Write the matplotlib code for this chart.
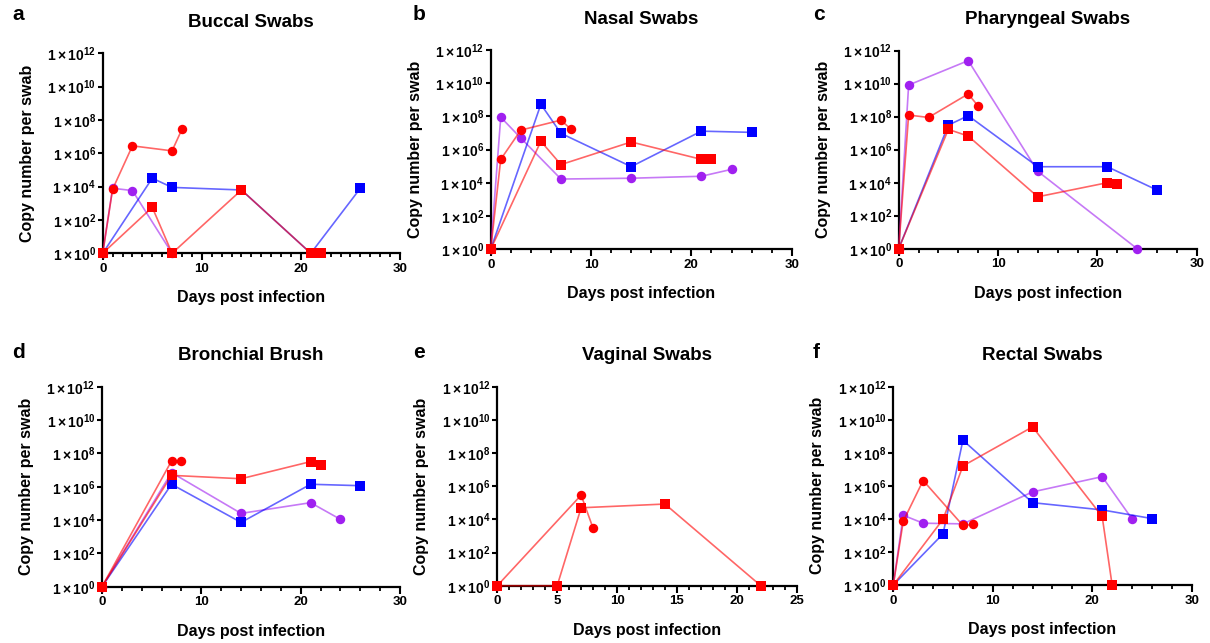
import matplotlib
matplotlib.use('Agg')
import matplotlib.pyplot as plt
from matplotlib.ticker import MultipleLocator, NullLocator

plt.rcParams['font.family'] = 'Liberation Sans'
plt.rcParams['font.weight'] = 'bold'
plt.rcParams['mathtext.fontset'] = 'custom'
plt.rcParams['mathtext.rm'] = 'Liberation Sans:bold'
plt.rcParams['mathtext.bf'] = 'Liberation Sans:bold'
plt.rcParams['mathtext.it'] = 'Liberation Sans:bold'
plt.rcParams['mathtext.default'] = 'bf'

# (days, copies per swab) for each animal; rc = red circles, pc = purple circles,
# bs = blue squares, rs = red squares
buccal_rc = ([0, 1, 3, 7, 8], [1, 7e3, 2.8e6, 1.4e6, 2.8e7])
buccal_pc = ([0, 1, 3, 7], [1, 8e3, 5.8e3, 1])
buccal_bs = ([0, 5, 7, 14, 21, 26], [1, 3.2e4, 9e3, 6.3e3, 1, 8e3])
buccal_rs = ([0, 5, 7, 14, 21, 22], [1, 575, 1, 6.3e3, 1, 1])

nasal_rc = ([0, 1, 3, 7, 8], [1, 2.6e5, 1.5e7, 6e7, 1.7e7])
nasal_pc = ([0, 1, 3, 7, 14, 21, 24], [1, 9e7, 5e6, 1.7e4, 1.9e4, 2.5e4, 6.5e4])
nasal_bs = ([0, 5, 7, 14, 21, 26], [1, 5.4e8, 9.6e6, 9.5e4, 1.3e7, 1.1e7])
nasal_rs = ([0, 5, 7, 14, 21, 22], [1, 3.2e6, 1.26e5, 2.9e6, 2.6e5, 2.6e5])

pharyngeal_rc = ([0, 1, 3, 7, 8], [1, 1.26e8, 9e7, 2.4e9, 4.4e8])
pharyngeal_pc = ([0, 1, 7, 14, 24], [1, 8.3e9, 2.5e11, 4.9e4, 1])
pharyngeal_bs = ([0, 5, 7, 14, 21, 26], [1, 3.1e7, 1.15e8, 9.3e4, 9.3e4, 3.6e3])
pharyngeal_rs = ([0, 5, 7, 14, 21, 22], [1, 1.7e7, 6.7e6, 1.4e3, 1e4, 8.3e3])

bronchial_rc = ([0, 7, 8], [1, 3.5e7, 3.5e7])
bronchial_pc = ([0, 7, 14, 21, 24], [1, 7e6, 2.5e4, 1.1e5, 1.1e4])
bronchial_bs = ([0, 7, 14, 21, 26], [1, 1.4e6, 7.2e3, 1.4e6, 1.15e6])
bronchial_rs = ([0, 7, 14, 21, 22], [1, 4.8e6, 3e6, 3.2e7, 2e7])

vaginal_rc = ([0, 7, 8], [1, 2.9e5, 2.9e3])
vaginal_rs = ([0, 5, 7, 14, 22], [1, 1, 5e4, 8.4e4, 1])

rectal_rc = ([0, 1, 3, 7, 8], [1, 7.2e3, 2.1e6, 4e3, 4.6e3])
rectal_pc = ([0, 1, 3, 7, 14, 21, 24], [1, 1.66e4, 5.5e3, 5e3, 4.3e5, 3.6e6, 1e4])
rectal_bs = ([0, 5, 7, 14, 21, 26], [1, 1.25e3, 5.8e8, 9.6e4, 3.5e4, 1.05e4])
rectal_rs = ([0, 5, 7, 14, 21, 22], [1, 9.5e3, 1.6e7, 3.7e9, 1.4e4, 1])

titles = ['Buccal Swabs', 'Nasal Swabs', 'Pharyngeal Swabs',
          'Bronchial Brush', 'Vaginal Swabs', 'Rectal Swabs']
letters = ['a', 'b', 'c', 'd', 'e', 'f']
exponents = [0, 2, 4, 6, 8, 10, 12]

RED, PURPLE, BLUE = '#ff0000', '#a020f0', '#0000ff'

W, H = 1210, 643
fig = plt.figure(figsize=(W / 100, H / 100), dpi=100)


def rect(l, r, t, b):
    return [l / W, 1 - b / H, (r - l) / W, (b - t) / H]


panels = [
    (rect(102.7, 400, 53.3, 253.3), 30, 10, 1, (12, 15),
     [(buccal_pc, PURPLE, 'o'), (buccal_bs, BLUE, 's'),
      (buccal_rc, RED, 'o'), (buccal_rs, RED, 's')]),
    (rect(490.7, 791.7, 50, 249.3), 30, 10, 2, (413, 15),
     [(nasal_pc, PURPLE, 'o'), (nasal_bs, BLUE, 's'),
      (nasal_rc, RED, 'o'), (nasal_rs, RED, 's')]),
    (rect(898.7, 1196.7, 50.7, 248.7), 30, 10, 2, (813, 15),
     [(pharyngeal_pc, PURPLE, 'o'), (pharyngeal_bs, BLUE, 's'),
      (pharyngeal_rc, RED, 'o'), (pharyngeal_rs, RED, 's')]),
    (rect(102, 400, 386.7, 586.7), 30, 10, 2, (12, 352),
     [(bronchial_pc, PURPLE, 'o'), (bronchial_bs, BLUE, 's'),
      (bronchial_rc, RED, 'o'), (bronchial_rs, RED, 's')]),
    (rect(497.3, 796.7, 386.7, 585.7), 25, 5, 1, (413, 352),
     [(vaginal_rc, RED, 'o'), (vaginal_rs, RED, 's')]),
    (rect(893.3, 1191.7, 386.7, 585), 30, 10, 2, (813, 352),
     [(rectal_pc, PURPLE, 'o'), (rectal_bs, BLUE, 's'),
      (rectal_rc, RED, 'o'), (rectal_rs, RED, 's')]),
]

for i, (pos, xmax, xmaj, xmin, letter_xy, series) in enumerate(panels):
    ax = fig.add_axes(pos)
    for z, ((days, copies), col, mk) in enumerate(series):
        ax.plot(days, copies, color=col, lw=1.2, alpha=0.6,
                clip_on=False, zorder=3 + 2 * z)
        ax.plot(days, copies, ls='none', marker=mk, color=col,
                ms=7 if mk == 's' else 6.8, mec=col, mew=0,
                clip_on=False, zorder=4 + 2 * z)
    ax.set_yscale('log')
    ax.set_ylim(1, 1e12)
    ax.set_xlim(0, xmax)
    ax.set_yticks([10.0 ** k for k in exponents])
    ax.set_yticklabels([r'$1\times10^{%d}$' % k for k in exponents])
    ax.yaxis.set_minor_locator(NullLocator())
    ax.xaxis.set_major_locator(MultipleLocator(xmaj))
    ax.xaxis.set_minor_locator(MultipleLocator(xmin))
    for s in ('top', 'right'):
        ax.spines[s].set_visible(False)
    for s in ('left', 'bottom'):
        ax.spines[s].set_linewidth(1.6)
    ax.tick_params(axis='y', which='major', length=3.8, width=1.5,
                   pad=1, labelsize=10)
    ax.tick_params(axis='x', which='major', length=5, width=1.5,
                   pad=2, labelsize=9.5)
    ax.tick_params(axis='x', which='minor', length=3, width=1.3)
    w_px = pos[2] * W
    h_px = pos[3] * H
    ax.set_ylabel('Copy number per swab', fontsize=11.5, fontweight='bold')
    ax.yaxis.set_label_coords(-68 / w_px, 0.5)
    ax.set_xlabel('Days post infection', fontsize=11.5, fontweight='bold')
    ax.xaxis.set_label_coords(0.5, -37 / h_px)
    ax.set_title(titles[i], fontsize=13.5, fontweight='bold', pad=19)
    fig.text(letter_xy[0] / W, 1 - letter_xy[1] / H, letters[i],
             fontsize=15, fontweight='bold', ha='left', va='center')

fig.savefig('out.png', dpi=100)
